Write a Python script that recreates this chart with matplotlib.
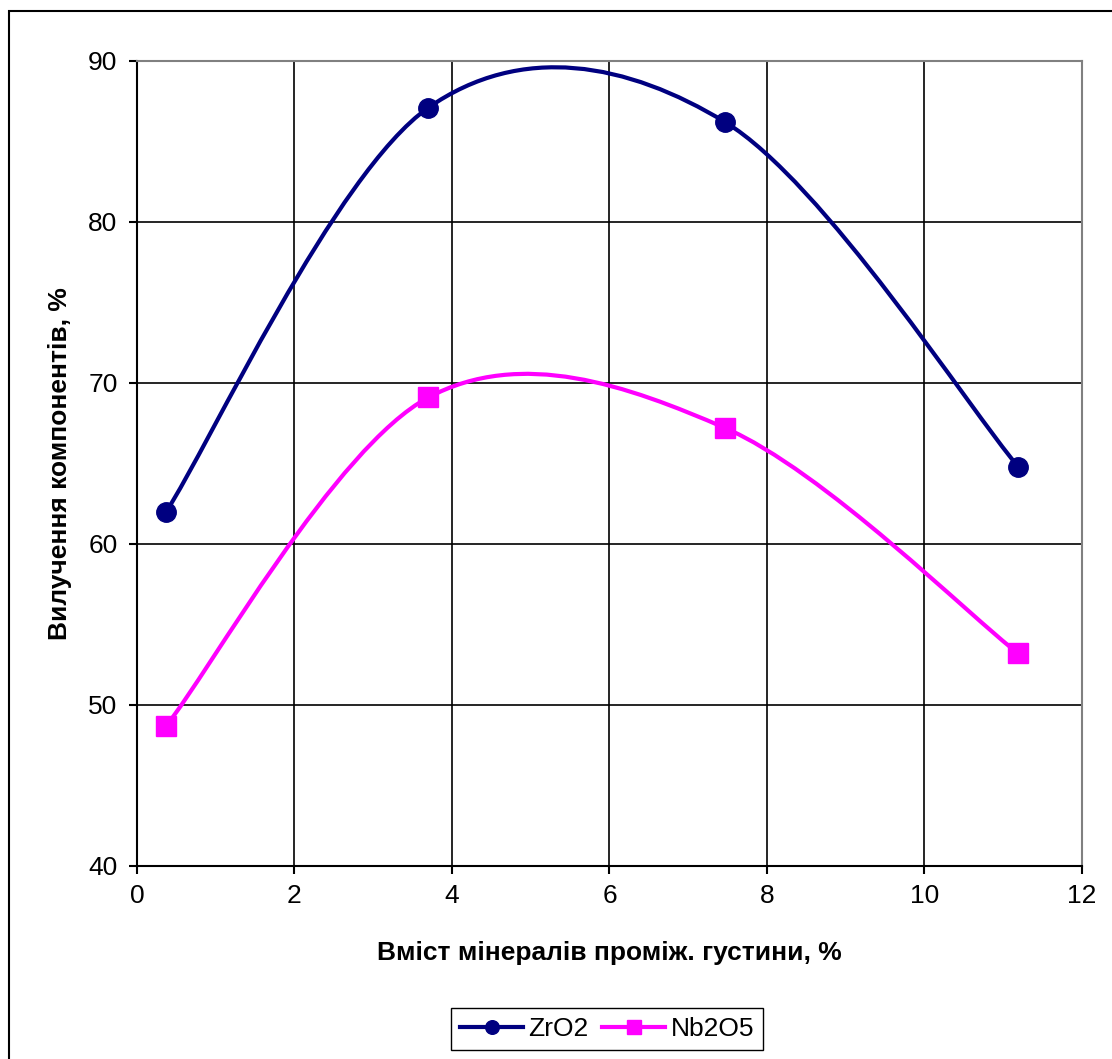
import numpy as np
import matplotlib.pyplot as plt
from matplotlib.path import Path
from matplotlib.patches import PathPatch, Rectangle
from matplotlib.lines import Line2D

plt.rcParams["font.family"] = ["Liberation Sans", "DejaVu Sans"]

# Data
x_vals = [0.37, 3.70, 7.47, 11.19]
zro2 = [62.0, 87.1, 86.2, 64.8]
nb2o5 = [48.7, 69.1, 67.2, 53.2]


def smooth_path(xs, ys):
    # Excel-like smoothed line: cubic Bezier through the points
    pts = np.column_stack([xs, ys])
    n = len(pts)
    verts = [pts[0]]
    codes = [Path.MOVETO]
    for i in range(n - 1):
        p0 = pts[max(i - 1, 0)]
        p1 = pts[i]
        p2 = pts[i + 1]
        p3 = pts[min(i + 2, n - 1)]
        c1 = p1 + (p2 - p0) / 6
        c2 = p2 - (p3 - p1) / 6
        verts += [c1, c2, p2]
        codes += [Path.CURVE4] * 3
    return Path(verts, codes)


fig = plt.figure(figsize=(11.12, 10.59), dpi=100)
ax = fig.add_axes([0.1232, 0.1823, 0.8498, 0.7601])

# outer chart frame
fig.patches.append(Rectangle((9 / 1112, -0.1), 1.2, 1.0896, transform=fig.transFigure,
                             fill=False, edgecolor="black", linewidth=1.5))

series = [
    ("ZrO2", zro2, "#000080", "o", 14),
    ("Nb2O5", nb2o5, "#FF00FF", "s", 15),
]

handles = []
for name, ys, color, mk, ms in series:
    ax.add_patch(PathPatch(smooth_path(x_vals, ys), fill=False, edgecolor=color,
                           linewidth=3, zorder=3))
    ax.plot(x_vals, ys, linestyle="none", marker=mk, markersize=ms,
            color=color, zorder=4)
    handles.append(Line2D([], [], color=color, linewidth=3, marker=mk,
                          markersize=ms * 0.7))

ax.set_xlim(0, 12)
ax.set_ylim(40, 90)
ax.set_xticks(range(0, 13, 2))
ax.set_yticks(range(40, 91, 10))
ax.grid(True, color="black", linewidth=1.2)
ax.set_axisbelow(True)

for s in ["top", "right"]:
    ax.spines[s].set_color("#808080")
    ax.spines[s].set_linewidth(1.5)
for s in ["left", "bottom"]:
    ax.spines[s].set_color("black")
    ax.spines[s].set_linewidth(1.5)

ax.tick_params(direction="out", length=6, width=1.5, labelsize=19)
ax.tick_params(axis="y", pad=8)
ax.tick_params(axis="x", pad=7)

ax.set_xlabel("Вміст мінералів проміж. густини, %", fontsize=19,
              fontweight="bold", labelpad=24)
ax.set_ylabel("Вилучення компонентів, %", fontsize=19,
              fontweight="bold", labelpad=12)

fig.legend(handles, [s[0] for s in series], loc="center",
           bbox_to_anchor=(607 / 1112, 1 - 1029 / 1059), ncol=2, fontsize=19,
           frameon=True, fancybox=False, edgecolor="black", framealpha=1,
           handlelength=2.4, handletextpad=0.2, columnspacing=0.5,
           borderpad=0.35)

fig.savefig("out.png", dpi=100)
